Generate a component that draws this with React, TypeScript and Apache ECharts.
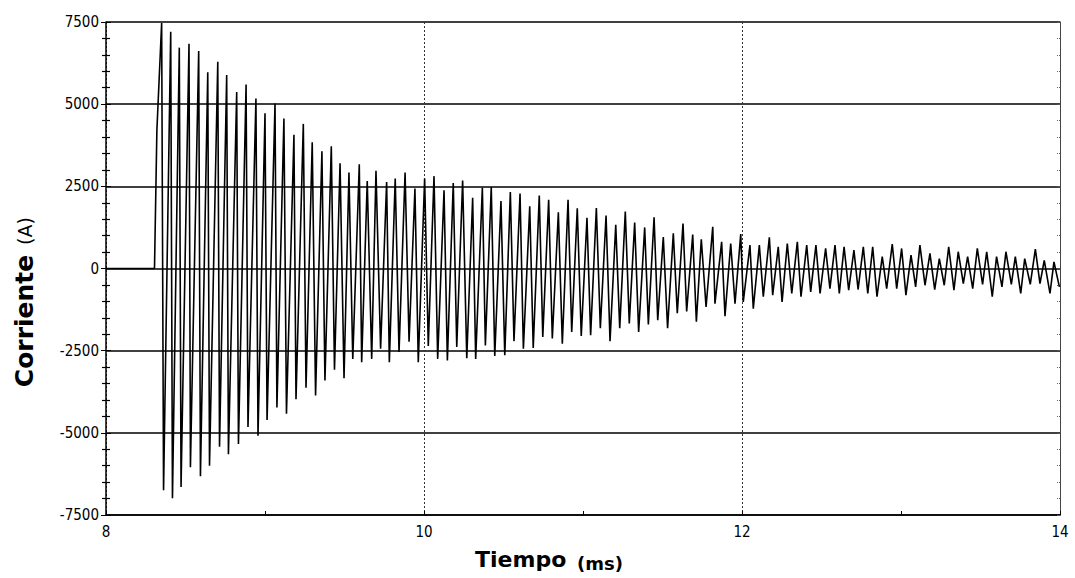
import React, { useEffect, useRef } from "react";
import * as echarts from "echarts";

// Axis ranges / ticks
const xMin = 8;
const xMax = 14;
const xStep = 2;
const yMin = -7500;
const yMax = 7500;
const yStep = 2500;

// Flat lead-in before the fault current starts (ms, A)
const leadInT = [8.0, 8.305, 8.32];
const leadInV = [0, 0, 4200];

// Positive peaks: time (ms) and current (A)
const posT = [
  8.350, 8.407, 8.461, 8.522, 8.583, 8.640, 8.703, 8.759, 8.822, 8.881,
  8.943, 9.000, 9.063, 9.119, 9.182, 9.241, 9.297, 9.358, 9.417, 9.472,
  9.528, 9.593, 9.643, 9.698, 9.765, 9.819, 9.881, 9.943, 10.004, 10.063,
  10.126, 10.184, 10.243, 10.306, 10.367, 10.423, 10.484, 10.543, 10.604, 10.665,
  10.725, 10.784, 10.845, 10.906, 10.964, 11.025, 11.084, 11.145, 11.206, 11.266,
  11.325, 11.388, 11.447, 11.505, 11.568, 11.629, 11.690, 11.744, 11.816, 11.872,
  11.929, 11.992, 12.050, 12.109, 12.172, 12.228, 12.285, 12.348, 12.407, 12.465,
  12.526, 12.585, 12.642, 12.704, 12.763, 12.822, 12.882, 12.945, 13.004, 13.063,
  13.119, 13.182, 13.241, 13.300, 13.360, 13.419, 13.480, 13.539, 13.601, 13.660,
  13.719, 13.778, 13.845, 13.901, 13.962,
];
const posV = [
  7470, 7200, 6720, 6840, 6620, 5970, 6290, 5890, 5370, 5600,
  5170, 4720, 5020, 4560, 4070, 4400, 3840, 3570, 3720, 3200,
  2920, 3170, 2660, 2970, 2630, 2740, 2920, 2430, 2740, 2810,
  2380, 2600, 2680, 2150, 2460, 2480, 2050, 2330, 2280, 1890,
  2220, 2090, 1710, 2090, 1830, 1540, 1840, 1610, 1330, 1730,
  1400, 1250, 1560, 960, 1070, 1370, 1030, 890, 1270, 810,
  760, 1050, 710, 710, 950, 660, 760, 810, 710, 710,
  610, 710, 660, 560, 660, 660, 360, 740, 610, 410,
  710, 460, 300, 660, 510, 360, 610, 510, 360, 510,
  360, 300, 590, 250, 200,
];

// Negative peaks: time (ms) and current (A)
const negT = [
  8.362, 8.418, 8.472, 8.531, 8.594, 8.651, 8.714, 8.770, 8.833, 8.893,
  8.956, 9.013, 9.075, 9.135, 9.195, 9.258, 9.318, 9.377, 9.437, 9.497,
  9.552, 9.608, 9.671, 9.727, 9.782, 9.843, 9.906, 9.964, 10.027, 10.086,
  10.147, 10.206, 10.269, 10.325, 10.386, 10.445, 10.508, 10.566, 10.625, 10.687,
  10.747, 10.807, 10.870, 10.929, 10.989, 11.048, 11.109, 11.170, 11.231, 11.291,
  11.350, 11.411, 11.470, 11.532, 11.593, 11.652, 11.713, 11.774, 11.830, 11.893,
  11.956, 12.008, 12.071, 12.134, 12.193, 12.252, 12.313, 12.371, 12.432, 12.491,
  12.553, 12.612, 12.671, 12.730, 12.791, 12.849, 12.910, 12.973, 13.031, 13.092,
  13.151, 13.212, 13.272, 13.333, 13.392, 13.451, 13.513, 13.574, 13.635, 13.694,
  13.753, 13.813, 13.874, 13.937, 13.996,
];
const negV = [
  -6750, -6990, -6650, -6050, -6320, -6000, -5420, -5650, -5340, -4820,
  -5090, -4610, -4230, -4420, -3980, -3630, -3860, -3410, -3080, -3340,
  -2750, -2850, -2750, -2440, -2850, -2540, -2230, -2850, -2360, -2750,
  -2800, -2390, -2730, -2750, -2340, -2660, -2640, -2210, -2440, -2420,
  -2080, -2130, -2290, -1930, -2050, -2030, -1820, -2210, -1820, -1670,
  -1930, -1700, -1570, -1820, -1360, -1310, -1620, -1170, -1070, -1450,
  -1070, -1020, -1220, -860, -810, -1020, -760, -860, -710, -760,
  -610, -760, -660, -640, -760, -860, -610, -610, -810, -560,
  -510, -640, -510, -660, -460, -610, -480, -860, -560, -480,
  -760, -480, -460, -760, -560,
];

const yName = "Corriente";
const yUnit = "(A)";
const xName = "Tiempo";
const xUnit = "(ms)";

const FONT = "'Liberation Sans Narrow', 'DejaVu Sans Condensed', 'Arial Narrow', sans-serif";
const TITLE_FONT = "'DejaVu Sans', sans-serif";

export default function App() {
  const ref = useRef<HTMLDivElement>(null);

  useEffect(() => {
    if (!ref.current) return;
    const chart = echarts.init(ref.current, undefined, { renderer: "svg" });

    const data: number[][] = [];
    leadInT.forEach((t, i) => data.push([t, leadInV[i]]));
    posT.forEach((t, i) => {
      data.push([t, posV[i]]);
      data.push([negT[i], negV[i]]);
    });

    const grid = { left: 106, top: 22, width: 954, height: 493 };
    const plain = (v: number) => String(v);

    chart.setOption({
      animation: false,
      backgroundColor: "#ffffff",
      grid,
      xAxis: {
        type: "value",
        min: xMin,
        max: xMax,
        interval: xStep,
        axisLine: { show: true, onZero: false, lineStyle: { color: "#000", width: 1.5 } },
        axisTick: { show: true, length: 4, inside: true, lineStyle: { color: "#000" } },
        minorTick: { show: true, splitNumber: 2, length: 4, lineStyle: { color: "#000" } },
        axisLabel: {
          color: "#000",
          fontFamily: FONT,
          fontSize: 15,
          margin: 9,
          formatter: plain,
        },
        splitLine: {
          show: true,
          lineStyle: { color: "#333", type: [2, 2], width: 1 },
        },
      },
      yAxis: [
        {
          type: "value",
          min: yMin,
          max: yMax,
          interval: yStep,
          position: "left",
          axisLine: { show: true, lineStyle: { color: "#000", width: 1.5 } },
          axisTick: { show: true, length: 5, lineStyle: { color: "#000" } },
          minorTick: { show: true, splitNumber: 5, length: 4, lineStyle: { color: "#000", width: 1.2 } },
          axisLabel: {
            color: "#000",
            fontFamily: FONT,
            fontSize: 15,
            margin: 7,
            formatter: plain,
          },
          splitLine: { show: true, lineStyle: { color: "#000", width: 1.6 } },
        },
        {
          type: "value",
          min: yMin,
          max: yMax,
          interval: yStep,
          position: "left",
          axisLine: { show: false },
          axisTick: { show: true, inside: true, length: 5, lineStyle: { color: "#000" } },
          minorTick: { show: true, splitNumber: 5, length: 4, lineStyle: { color: "#000", width: 1.2 } },
          axisLabel: { show: false },
          splitLine: { show: false },
        },
        {
          type: "value",
          min: yMin,
          max: yMax,
          interval: yStep,
          position: "right",
          axisLine: { show: true, lineStyle: { color: "#444", width: 1 } },
          axisTick: { show: true, inside: true, length: 3, lineStyle: { color: "#555" } },
          minorTick: { show: true, splitNumber: 5, length: 3, lineStyle: { color: "#666", type: "dotted" } },
          axisLabel: { show: false },
          splitLine: { show: false },
        },
      ],
      series: [
        {
          type: "line",
          data,
          yAxisIndex: 0,
          showSymbol: false,
          symbol: "none",
          lineStyle: { color: "#000", width: 1.6 },
          z: 5,
        },
      ],
      graphic: [
        {
          type: "text",
          x: 24,
          y: 321,
          rotation: Math.PI / 2,
          style: {
            text: yName,
            align: "center",
            verticalAlign: "middle",
            fontFamily: TITLE_FONT,
            fontWeight: "bold",
            fontSize: 25,
            fill: "#000",
          },
        },
        {
          type: "text",
          x: 25,
          y: 231,
          rotation: Math.PI / 2,
          style: {
            text: yUnit,
            align: "center",
            verticalAlign: "middle",
            fontFamily: TITLE_FONT,
            fontSize: 19,
            fill: "#000",
          },
        },
        {
          type: "text",
          x: 475,
          y: 559,
          style: {
            text: xName,
            align: "left",
            verticalAlign: "middle",
            fontFamily: TITLE_FONT,
            fontWeight: "bold",
            fontSize: 22,
            fill: "#000",
          },
        },
        {
          type: "text",
          x: 577,
          y: 563,
          style: {
            text: xUnit,
            align: "left",
            verticalAlign: "middle",
            fontFamily: TITLE_FONT,
            fontWeight: "bold",
            fontSize: 18,
            fill: "#000",
          },
        },
      ],
    });

    return () => chart.dispose();
  }, []);

  return (
    <div
      ref={ref}
      style={{ position: "absolute", left: 0, top: 0, width: 1075, height: 578 }}
    />
  );
}
